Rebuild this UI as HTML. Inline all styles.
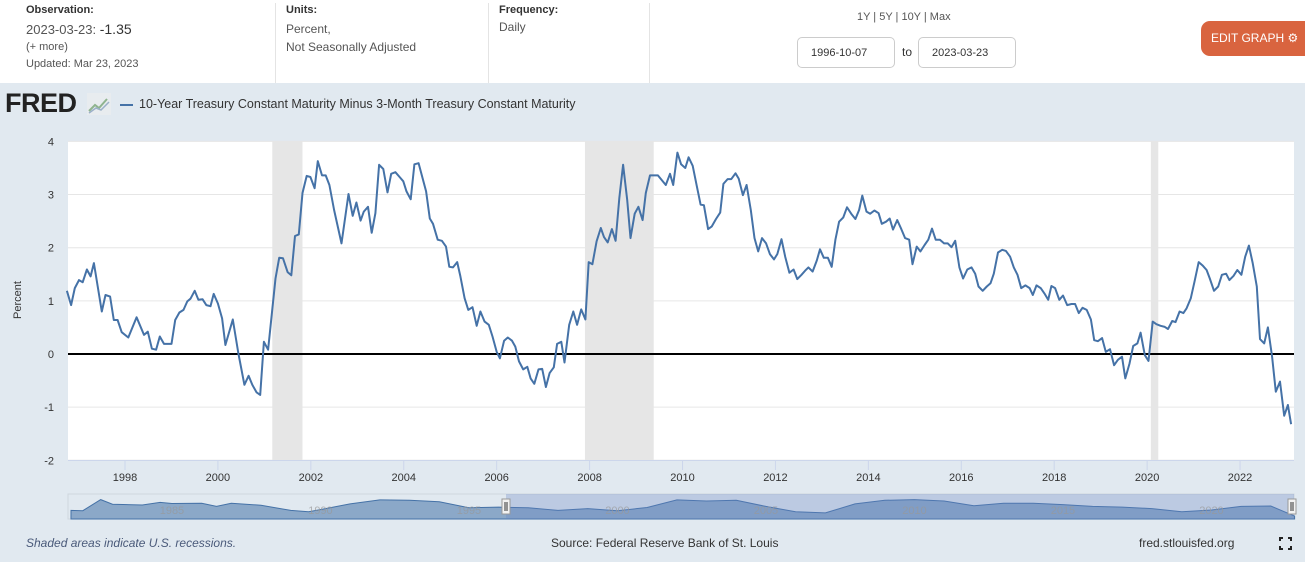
<!DOCTYPE html>
<html><head><meta charset="utf-8">
<style>
body{margin:0;width:1305px;height:562px;overflow:hidden;background:#e1e9f0;font-family:"Liberation Sans",sans-serif;position:relative;color:#333}
.hdr{position:absolute;left:0;top:0;width:1305px;height:83px;background:#fff}
.t{position:absolute;white-space:nowrap}
.sep{position:absolute;top:3px;width:1px;height:80px;background:#e4e4e4}
.inp{position:absolute;top:37px;height:31px;width:98px;border:1px solid #ccc;border-radius:5px;background:#fff;font-size:11px;line-height:31px;color:#333;box-sizing:border-box;padding-left:13px}
</style></head><body>
<div class="hdr">
  <div class="t" style="left:26px;top:4px;font-size:11px;font-weight:bold">Observation:</div>
  <div class="t" style="left:26px;top:21px;font-size:13px;color:#555">2023-03-23: <span style="font-size:14px;color:#333">-1.35</span></div>
  <div class="t" style="left:26px;top:41px;font-size:11px;color:#555">(+ more)</div>
  <div class="t" style="left:26px;top:58px;font-size:11px;color:#555">Updated: Mar 23, 2023</div>
  <div class="sep" style="left:275px"></div>
  <div class="t" style="left:286px;top:4px;font-size:11px;font-weight:bold">Units:</div>
  <div class="t" style="left:286px;top:20px;font-size:12px;color:#555;line-height:18px">Percent,<br>Not Seasonally Adjusted</div>
  <div class="sep" style="left:488px"></div>
  <div class="t" style="left:499px;top:4px;font-size:11px;font-weight:bold">Frequency:</div>
  <div class="t" style="left:499px;top:20px;font-size:12px;color:#555">Daily</div>
  <div class="sep" style="left:649px"></div>
  <div class="t" style="left:857px;top:11px;font-size:11px;color:#555">1Y | 5Y | 10Y | Max</div>
  <div class="inp" style="left:797px">1996-10-07</div>
  <div class="t" style="left:902px;top:45px;font-size:12px">to</div>
  <div class="inp" style="left:918px">2023-03-23</div>
  <div class="t" style="left:1201px;top:21px;width:104px;height:35px;background:#d9643f;border-radius:9px 0 0 9px;color:#fff;font-size:12px;line-height:35px;padding-left:10px;box-sizing:border-box">EDIT GRAPH &#9881;</div>
</div>
<div class="t" style="left:5px;top:88px;font-size:27px;font-weight:bold;color:#222;letter-spacing:-0.5px">FRED</div>
<svg style="position:absolute;left:87px;top:93px" width="24" height="22"><rect width="24" height="22" fill="#e8ecef"/><polyline points="2,18 8,12 12,15 20,6" fill="none" stroke="#8fb48f" stroke-width="2"/><polyline points="2,20 9,15 14,17 22,9" fill="none" stroke="#9bb0c8" stroke-width="1.5"/></svg>
<div class="t" style="left:120px;top:104px;width:13px;height:2px;background:#4572a7"></div>
<div class="t" style="left:139px;top:97px;font-size:12.5px;color:#333">10-Year Treasury Constant Maturity Minus 3-Month Treasury Constant Maturity</div>
<svg id="chart" style="position:absolute;left:0;top:0" width="1305" height="562"></svg>
<div class="t" style="left:26px;top:536px;font-size:12px;font-style:italic;color:#4a5a7a">Shaded areas indicate U.S. recessions.</div>
<div class="t" style="left:551px;top:536px;font-size:12px;color:#333">Source: Federal Reserve Bank of St. Louis</div>
<div class="t" style="left:1139px;top:536px;font-size:12px;color:#333">fred.stlouisfed.org</div>
<svg style="position:absolute;left:1279px;top:537px" width="13" height="13"><path d="M1 4V1h3M9 1h3v3M12 9v3H9M4 12H1V9" fill="none" stroke="#222" stroke-width="2"/></svg>
<script>
const dates=[1996.75,1996.84,1996.92,1997.01,1997.09,1997.18,1997.26,1997.33,1997.50,1997.58,1997.68,1997.76,1997.84,1997.93,1998.07,1998.25,1998.41,1998.49,1998.58,1998.67,1998.75,1998.84,1999.00,1999.08,1999.17,1999.26,1999.34,1999.41,1999.50,1999.58,1999.67,1999.75,1999.84,1999.91,2000.00,2000.09,2000.16,2000.32,2000.44,2000.57,2000.66,2000.74,2000.83,2000.91,2000.99,2001.08,2001.24,2001.32,2001.40,2001.50,2001.58,2001.66,2001.74,2001.82,2001.91,2001.99,2002.08,2002.15,2002.24,2002.32,2002.40,2002.50,2002.66,2002.81,2002.90,2002.98,2003.07,2003.14,2003.23,2003.31,2003.39,2003.47,2003.56,2003.65,2003.73,2003.82,2003.91,2003.99,2004.06,2004.15,2004.23,2004.32,2004.48,2004.56,2004.63,2004.73,2004.82,2004.91,2004.98,2005.06,2005.15,2005.22,2005.31,2005.39,2005.48,2005.57,2005.65,2005.74,2005.83,2005.91,2006.00,2006.07,2006.16,2006.24,2006.33,2006.40,2006.48,2006.57,2006.66,2006.73,2006.81,2006.90,2006.98,2007.06,2007.14,2007.23,2007.30,2007.39,2007.46,2007.56,2007.65,2007.73,2007.82,2007.91,2007.98,2008.06,2008.15,2008.24,2008.31,2008.39,2008.48,2008.56,2008.64,2008.72,2008.81,2008.88,2008.97,2009.05,2009.14,2009.21,2009.30,2009.47,2009.64,2009.73,2009.80,2009.89,2009.97,2010.06,2010.13,2010.22,2010.31,2010.39,2010.46,2010.55,2010.63,2010.72,2010.81,2010.88,2010.97,2011.05,2011.14,2011.21,2011.30,2011.38,2011.47,2011.55,2011.63,2011.71,2011.80,2011.88,2011.97,2012.04,2012.13,2012.21,2012.30,2012.39,2012.47,2012.56,2012.64,2012.71,2012.80,2012.89,2012.96,2013.04,2013.13,2013.21,2013.29,2013.37,2013.46,2013.54,2013.63,2013.72,2013.80,2013.87,2013.96,2014.04,2014.13,2014.22,2014.29,2014.38,2014.46,2014.53,2014.62,2014.71,2014.79,2014.88,2014.95,2015.04,2015.12,2015.21,2015.29,2015.37,2015.45,2015.54,2015.63,2015.71,2015.79,2015.87,2015.96,2016.04,2016.13,2016.22,2016.30,2016.37,2016.46,2016.55,2016.63,2016.70,2016.79,2016.88,2016.96,2017.05,2017.13,2017.21,2017.29,2017.38,2017.47,2017.54,2017.62,2017.71,2017.79,2017.87,2017.94,2018.02,2018.11,2018.19,2018.28,2018.37,2018.45,2018.53,2018.61,2018.70,2018.79,2018.86,2018.94,2019.03,2019.11,2019.20,2019.29,2019.37,2019.46,2019.53,2019.62,2019.70,2019.79,2019.86,2019.95,2020.03,2020.12,2020.20,2020.29,2020.38,2020.45,2020.54,2020.61,2020.70,2020.78,2020.85,2020.94,2021.02,2021.11,2021.20,2021.28,2021.35,2021.44,2021.53,2021.61,2021.70,2021.77,2021.86,2021.94,2022.03,2022.11,2022.19,2022.27,2022.36,2022.43,2022.52,2022.60,2022.69,2022.77,2022.86,2022.95,2023.03,2023.10];
const values=[1.19,0.92,1.24,1.39,1.35,1.59,1.46,1.71,0.80,1.11,1.08,0.64,0.64,0.41,0.31,0.69,0.36,0.42,0.10,0.08,0.33,0.19,0.19,0.64,0.78,0.83,0.99,1.04,1.19,1.02,1.03,0.92,0.90,1.13,0.95,0.67,0.17,0.65,0.01,-0.58,-0.41,-0.58,-0.72,-0.77,0.23,0.08,1.42,1.81,1.80,1.54,1.48,2.22,2.25,3.03,3.35,3.33,3.12,3.63,3.36,3.36,3.18,2.71,2.08,3.01,2.60,2.85,2.51,2.68,2.77,2.28,2.65,3.56,3.48,3.04,3.39,3.42,3.33,3.25,3.06,2.91,3.57,3.59,3.06,2.55,2.45,2.15,2.13,2.02,1.64,1.63,1.73,1.46,1.05,0.83,0.88,0.53,0.80,0.61,0.55,0.33,0.04,-0.08,0.25,0.31,0.25,0.14,-0.14,-0.29,-0.24,-0.46,-0.56,-0.29,-0.28,-0.62,-0.36,-0.25,0.19,0.23,-0.16,0.55,0.80,0.55,0.84,0.65,1.73,1.69,2.12,2.37,2.20,2.10,2.35,2.13,2.93,3.56,2.90,2.18,2.64,2.77,2.52,3.03,3.36,3.36,3.18,3.39,3.18,3.79,3.57,3.50,3.70,3.54,3.15,2.81,2.80,2.35,2.40,2.54,2.66,3.20,3.29,3.29,3.40,3.30,2.99,3.18,2.71,2.18,1.93,2.18,2.08,1.88,1.78,1.88,2.16,1.83,1.53,1.59,1.41,1.49,1.57,1.63,1.55,1.76,1.97,1.81,1.81,1.64,2.15,2.49,2.57,2.76,2.64,2.54,2.71,2.98,2.68,2.64,2.70,2.65,2.45,2.49,2.55,2.34,2.52,2.35,2.18,2.15,1.69,2.02,1.93,2.05,2.15,2.36,2.15,2.15,2.08,2.08,2.01,2.13,1.63,1.42,1.59,1.63,1.51,1.27,1.19,1.27,1.33,1.51,1.91,1.96,1.94,1.83,1.63,1.49,1.24,1.29,1.24,1.11,1.29,1.24,1.14,1.02,1.28,1.24,1.02,1.10,0.92,0.94,0.94,0.77,0.87,0.83,0.65,0.26,0.24,0.30,0.04,0.09,-0.21,-0.11,-0.05,-0.46,-0.18,0.15,0.20,0.40,-0.02,-0.13,0.61,0.56,0.53,0.51,0.47,0.62,0.60,0.80,0.77,0.86,1.05,1.36,1.73,1.66,1.58,1.42,1.19,1.27,1.49,1.51,1.39,1.47,1.58,1.49,1.83,2.04,1.72,1.27,0.28,0.20,0.50,-0.05,-0.71,-0.52,-1.16,-0.96,-1.32];
const recStart=[2001.17,2007.90,2020.08];
const recEnd=[2001.82,2009.38,2020.24];
const yTicks=[4,3,2,1,0,-1,-2];
const xTicks=[1998,2000,2002,2004,2006,2008,2010,2012,2014,2016,2018,2020,2022];
const navYears=[1981.6,1982,1982.6,1983,1984,1984.6,1985,1986,1986.5,1987,1988,1989,1989.6,1990,1991,1992,1993,1994,1995,1996,1997,1998,1999,2000,2001,2002,2003,2004,2005,2006,2007,2008,2009,2010,2011,2012,2013,2014,2015,2016,2017,2018,2019,2020,2021,2022,2022.8];
const navValues=[0.4,0.3,3.4,2.1,1.9,2.6,2.3,2.4,1.5,2.4,1.8,0.4,0,0.6,2.2,3.3,3.2,2.8,1.1,1.3,1.1,0.4,0.9,0.3,1.2,3.3,3.0,3.2,1.5,0.0,-0.3,2.2,3.2,3.4,3.0,1.7,2.4,2.4,2.0,1.5,1.3,0.9,0.0,0.5,1.5,1.6,-1.2];
const svg=document.getElementById('chart');const NS='http://www.w3.org/2000/svg';
const L=68,R=1294,T=141,B=460;
const X=y=>125+(y-1998)*46.46;
const Y=v=>354-v*53.15;
function mk(t,a,p){const e=document.createElementNS(NS,t);for(const k in a)e.setAttribute(k,a[k]);(p||svg).appendChild(e);return e;}
const bg=mk('rect',{x:L,y:T,width:R-L,height:B-T,fill:'#fff'});


recStart.forEach((s,i)=>{const r=mk('rect',{x:X(s),y:T,width:X(recEnd[i])-X(s),height:B-T,fill:'#e6e6e6'});

});
yTicks.forEach(v=>{if(v!==0){const g=mk('line',{x1:L,x2:R,y1:Y(v),y2:Y(v),stroke:'#e6e6e6'});

}
const t=mk('text',{x:54,y:Y(v)+4,'text-anchor':'end','font-size':11,fill:'#333'});t.textContent=v;

});
const z=mk('line',{x1:L,x2:R,y1:Y(0),y2:Y(0),stroke:'#000','stroke-width':2});


mk('line',{x1:L,x2:R,y1:B+0.5,y2:B+0.5,stroke:'#ccd6eb'});
xTicks.forEach(y=>{mk('line',{x1:X(y),x2:X(y),y1:B,y2:B+10,stroke:'#ccd6eb'});
const t=mk('text',{x:X(y),y:481,'text-anchor':'middle','font-size':11,fill:'#333'});t.textContent=y;

});
const yt=mk('text',{x:0,y:0,transform:'translate(21,300) rotate(-90)','text-anchor':'middle','font-size':11,fill:'#333'});yt.textContent='Percent';


const line=mk('polyline',{points:dates.map((d,i)=>X(d).toFixed(1)+','+Y(values[i]).toFixed(1)).join(' '),fill:'none',stroke:'#4572a7','stroke-width':2,'stroke-linejoin':'round'});


// navigator
const NT=494,NB=519;
const NX=y=>68+(y-1981.5)*29.7, NY=v=>NB-(v+2)*3.6;
const nb=mk('rect',{x:68,y:NT,width:1226,height:NB-NT,fill:'#e1e9f0',stroke:'#cfd6de'});


let p='M'+NX(navYears[0])+','+NB+' '+navYears.map((y,i)=>'L'+NX(y).toFixed(1)+','+NY(navValues[i]).toFixed(1)).join(' ')+' L'+NX(navYears[navYears.length-1])+','+NB+'Z';
const na=mk('path',{d:p,fill:'rgba(69,114,167,0.55)',stroke:'#4572a7','stroke-width':1});


const sel=mk('rect',{x:506,y:NT,width:788,height:NB-NT,fill:'rgba(102,133,194,0.3)'});


[1985,1990,1995,2000,2005,2010,2015,2020].forEach(y=>{const t=mk('text',{x:NX(y),y:514,'text-anchor':'middle','font-size':11,fill:'#999','fill-opacity':0.7});t.textContent=y;

});
[506,1292].forEach(x=>{const h=mk('rect',{x:x-4,y:499,width:8,height:15,fill:'#f2f2f2',stroke:'#999'});


mk('line',{x1:x-1,x2:x-1,y1:502,y2:511,stroke:'#333'});mk('line',{x1:x+1,x2:x+1,y1:502,y2:511,stroke:'#333'});});
</script>
</body></html>
